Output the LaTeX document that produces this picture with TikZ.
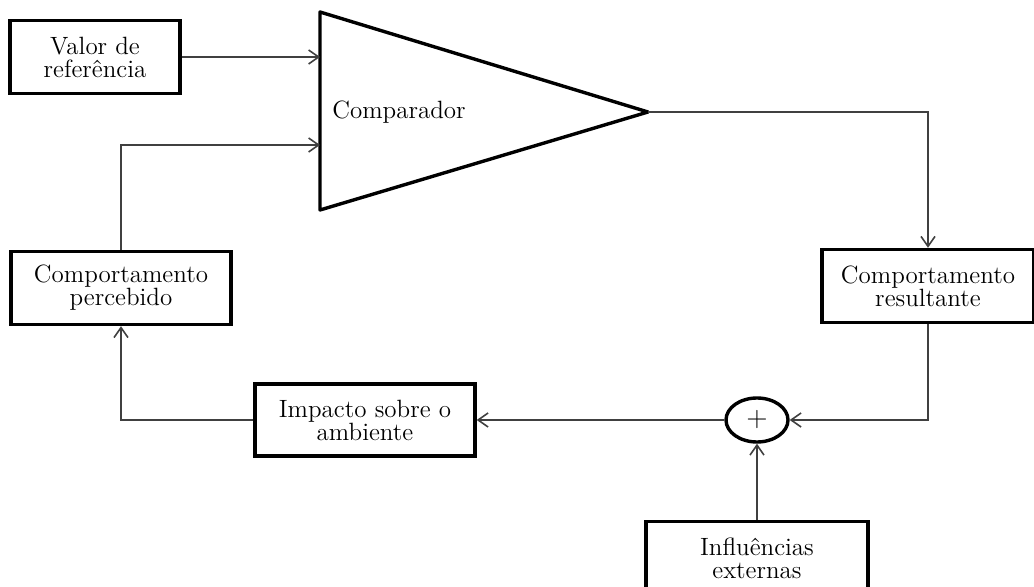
\documentclass[tikz,border=0pt]{standalone}
\usepackage{tikz}
\usetikzlibrary{arrows.meta,shapes.geometric}

\begin{document}
\begin{tikzpicture}[x=0.5pt,y=-0.5pt,
    bloco/.style={draw=black,line width=1.7pt,fill=white,align=center,
      font=\fontsize{12.5}{11.5}\selectfont,inner sep=2pt},
    liga/.style={draw=black!75,line width=0.8pt},
    seta/.style={liga,-{Straight Barb[length=5pt,width=7pt]}}]
  \useasboundingbox (0,0) rectangle (1034,587);
  \node[bloco,minimum width=85pt,minimum height=36.5pt] (valor) at (95,57) {Valor de\\referência};
  \draw[line width=1.7pt,line join=round] (320,12) -- (648,112) -- (320,210) -- cycle;
  \coordinate (cmpA) at (320,57);
  \coordinate (cmpB) at (320,145);
  \coordinate (cmpout) at (648,112);
  \node[font=\fontsize{12.5}{11.5}\selectfont] (comparador) at (399,112) {Comparador};
  \node[bloco,minimum width=110pt,minimum height=36.5pt] (percebido) at (121,288) {Comportamento\\percebido};
  \node[bloco,minimum width=106pt,minimum height=36.5pt] (resultante) at (928,286) {Comportamento\\resultante};
  \node[bloco,minimum width=110pt,minimum height=36pt] (impacto) at (365,420) {Impacto sobre o\\ambiente};
  \node[ellipse,draw=black,line width=1.7pt,minimum width=31pt,minimum height=22pt,inner sep=0pt,
    font=\fontsize{14}{14}\selectfont] (soma) at (757,420) {+};
  \node[bloco,minimum width=111pt,minimum height=36.5pt] (influencias) at (757,558) {Influências\\externas};
  \draw[seta] (valor.east) -- (cmpA);
  \draw[seta] (percebido.north) |- (cmpB);
  \draw[seta] (cmpout) -| (resultante.north);
  \draw[seta] (resultante.south) |- (soma.east);
  \draw[seta] (soma.west) -- (impacto.east);
  \draw[seta] (impacto.west) -| (percebido.south);
  \draw[seta] (influencias.north) -- (soma.south);
\end{tikzpicture}
\end{document}
